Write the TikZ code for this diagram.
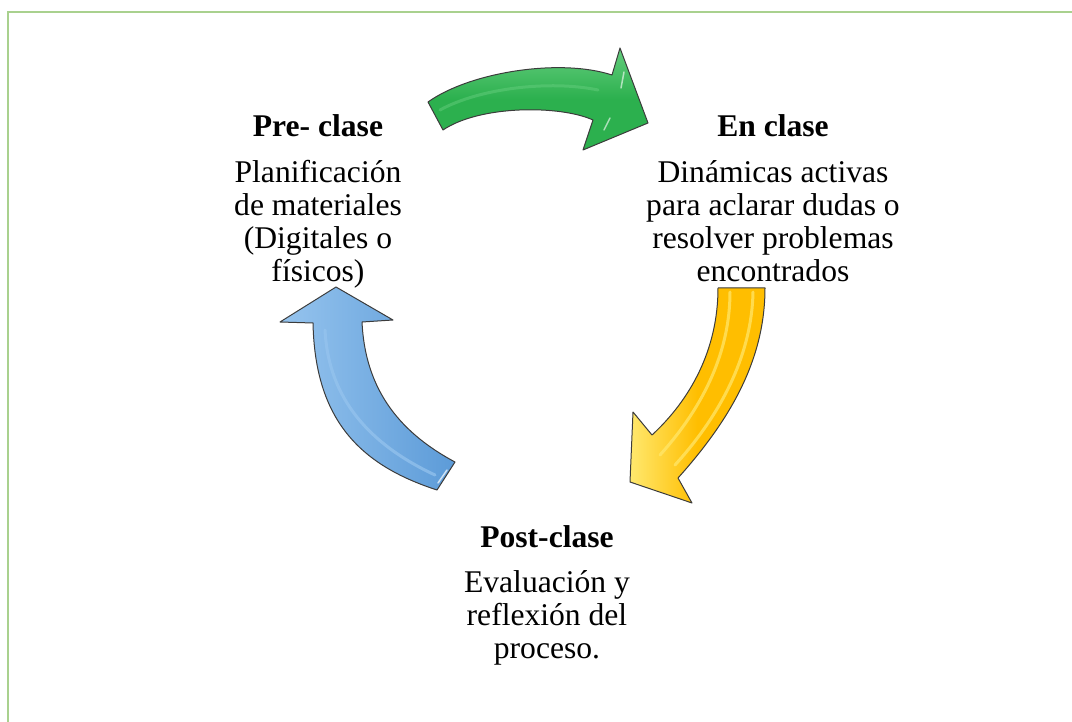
\documentclass[tikz,border=0pt]{standalone}
\usepackage{fontspec}
\setmainfont{LiberationSerif}[Extension=.ttf, UprightFont=*-Regular, BoldFont=*-Bold, ItalicFont=*-Italic, BoldItalicFont=*-BoldItalic]
\definecolor{bordergreen}{RGB}{169,209,142}
\definecolor{arrgreen}{RGB}{44,176,78}
\definecolor{arrgreenlt}{RGB}{100,205,125}
\definecolor{arryellow}{RGB}{255,190,0}
\definecolor{arryellowlt}{RGB}{255,232,110}
\definecolor{arrblue}{RGB}{92,155,216}
\definecolor{arrbluelt}{RGB}{150,196,238}
\definecolor{arroutline}{RGB}{60,60,60}
\tikzset{
  txt/.style={inner sep=0pt, anchor=base, font=\rmfamily\fontsize{31.6}{33}\selectfont},
  ttl/.style={txt, font=\rmfamily\fontsize{31.6}{33}\selectfont\bfseries},
  arrowshape/.style={draw=arroutline, line width=1pt, line join=round},
  hilite/.style={line width=3pt, line cap=round, opacity=0.7}
}
\begin{document}
\begin{tikzpicture}[x=1pt,y=-1pt]
\useasboundingbox (0,0) rectangle (1072,722);
% border
\draw[bordergreen, line width=2pt] (8,722) -- (8,12) -- (1072,12);

% green arrow
\path[arrowshape, top color=arrgreenlt, bottom color=arrgreen, middle color=arrgreen]
  (428,102) .. controls (470,72) and (560,58) .. (612,75) -- (620,48) -- (648,123)
  -- (583,150) -- (593,120) .. controls (560,105) and (480,105) .. (443,130) -- cycle;
\draw[arrgreenlt, hilite, opacity=0.5] (440,110) .. controls (480,88) and (550,80) .. (598,90);
\draw[white, line width=1.5pt, opacity=0.6, line cap=round] (624,72) -- (621,88);
\draw[white, line width=1.5pt, opacity=0.6, line cap=round] (610,118) -- (604,130);

% yellow arrow
\path[arrowshape, left color=arryellowlt, right color=arryellow, middle color=arryellow]
  (718,288) -- (765,288) .. controls (765,360) and (730,420) .. (678,478) -- (692,503)
  -- (630,482) -- (633,412) -- (652,435) .. controls (690,400) and (718,350) .. (718,288) -- cycle;
\draw[arryellowlt, hilite] (730,292) .. controls (730,350) and (705,405) .. (660,455);
\draw[arryellowlt, hilite] (753,292) .. controls (752,350) and (725,410) .. (675,465);

% blue arrow
\path[arrowshape, left color=arrbluelt, right color=arrblue]
  (336,287) -- (393,320) -- (362,322) .. controls (365,385) and (395,430) .. (455,462)
  -- (437,490) .. controls (360,465) and (315,420) .. (313,323) -- (280,322) -- cycle;
\draw[arrbluelt, hilite] (325,330) .. controls (328,390) and (360,440) .. (435,475);
\draw[white, line width=1.5pt, opacity=0.7, line cap=round] (447,470) -- (438,483);

% texts
\node[ttl] (pretitle) at (318,137) {Pre- clase};
\node[txt] (prebody) at (318,183) {\begin{tabular}[t]{@{}c@{}}Planificación\\de materiales\\(Digitales o\\físicos)\end{tabular}};

\node[ttl] (entitle) at (773,137) {En clase};
\node[txt] (enbody) at (773,183) {\begin{tabular}[t]{@{}c@{}}Dinámicas activas\\para aclarar dudas o\\resolver problemas\\encontrados\end{tabular}};

\node[ttl] (posttitle) at (547,547) {Post-clase};
\node[txt] (postbody) at (547,592) {\begin{tabular}[t]{@{}c@{}}Evaluación y\\reflexión del\\proceso.\end{tabular}};
\end{tikzpicture}
\end{document}
